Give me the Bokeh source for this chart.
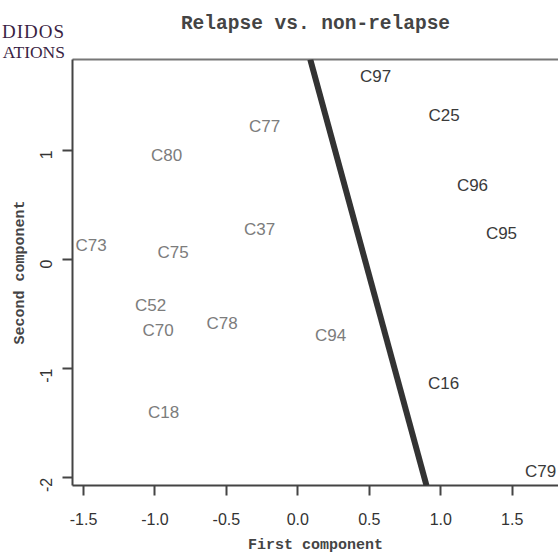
from bokeh.plotting import figure
from bokeh.models import (ColumnDataSource, Range1d, LinearAxis, FixedTicker,
                          Slope, PrintfTickFormatter, GridBox, Div)
from bokeh.core.properties import value
from bokeh.embed import file_html
from bokeh.resources import INLINE

# ---- data ----
names = ["C97", "C25", "C96", "C95", "C16", "C79",
         "C77", "C80", "C37", "C73", "C75", "C52", "C70", "C78", "C94", "C18"]
first = [0.544, 1.023, 1.222, 1.425, 1.020, 1.699,
         -0.233, -0.919, -0.268, -1.447, -0.873, -1.031, -0.978, -0.530, 0.229, -0.940]
second = [1.677, 1.324, 0.674, 0.238, -1.132, -1.943,
          1.219, 0.949, 0.275, 0.133, 0.060, -0.426, -0.651, -0.582, -0.697, -1.402]
group = ["non-relapse"] * 6 + ["relapse"] * 10
group_colors = {"non-relapse": "#3a3a3a", "relapse": "#7c7c7c"}

# separating line: second = gradient * first + intercept
line_gradient = -4.8
line_intercept = 2.25

x_ticks = [-1.5, -1.0, -0.5, 0.0, 0.5, 1.0, 1.5]
y_ticks = [-2, -1, 0, 1]
x_lim = (-1.577, 1.824)
y_lim = (-2.071, 1.833)

title_text = "Relapse vs. non-relapse"
x_title = "First component"
y_title = "Second component"
logo_lines = ["DIDOS", "ATIONS"]

colors = [group_colors[g] for g in group]
src = ColumnDataSource(dict(x=first, y=second, name=names, color=colors))

p = figure(output_backend="svg", toolbar_location=None,
           frame_width=486, frame_height=426,
           min_border_left=72, min_border_right=0,
           min_border_top=59, min_border_bottom=68,
           x_range=Range1d(*x_lim), y_range=Range1d(*y_lim))
p.background_fill_color = "white"
p.border_fill_color = "white"
p.outline_line_color = None
p.grid.visible = False

p.text(x="x", y="y", text="name", source=src, text_color="color",
       text_font=value("Liberation Sans"), text_font_size="17px",
       text_align="center", text_baseline="middle")

p.add_layout(Slope(gradient=line_gradient, y_intercept=line_intercept,
                   line_color="#333333", line_width=6))

for ax in (p.xaxis[0], p.yaxis[0]):
    ax.axis_line_color = "#444444"
    ax.axis_line_width = 2
    ax.major_tick_line_color = "#444444"
    ax.major_tick_line_width = 2
    ax.major_tick_in = 0
    ax.major_tick_out = 10
    ax.minor_tick_line_color = None
    ax.major_label_text_font = "Liberation Sans"
    ax.major_label_text_font_size = "16px"
    ax.major_label_text_color = "#333333"
    ax.axis_label_text_font = "Liberation Mono"
    ax.axis_label_text_font_style = "bold"
    ax.axis_label_text_font_size = "15px"
    ax.axis_label_text_color = "#444444"

p.xaxis[0].ticker = FixedTicker(ticks=x_ticks)
p.xaxis[0].formatter = PrintfTickFormatter(format="%.1f")
p.xaxis[0].axis_label = x_title
p.xaxis[0].major_label_standoff = 17
p.xaxis[0].axis_label_standoff = 9

p.yaxis[0].ticker = FixedTicker(ticks=y_ticks)
p.yaxis[0].formatter = PrintfTickFormatter(format="%d")
p.yaxis[0].axis_label = y_title
p.yaxis[0].major_label_orientation = 3.14159265 / 2
p.yaxis[0].major_label_standoff = 16
p.yaxis[0].axis_label_standoff = 3

# top frame edge, carrying the chart title as its label
top = LinearAxis(ticker=FixedTicker(ticks=[]), axis_line_color="#777777",
                 axis_line_width=2, major_tick_line_color=None,
                 major_tick_in=0, major_tick_out=0, major_label_standoff=0,
                 minor_tick_line_color=None, major_label_text_font_size="0px",
                 axis_label=title_text, axis_label_standoff=25,
                 axis_label_text_font="Liberation Mono",
                 axis_label_text_font_size="19.5px",
                 axis_label_text_font_style="bold",
                 axis_label_text_color="#444444")
p.add_layout(top, "above")

logo_sizes = ["19px", "17.5px"]
logo_spacing = ["1px", "0px"]
logo_html = ('<div style="padding-top:22px;width:65px;">'
             + "".join(
                 '<div style="direction:rtl;white-space:nowrap;'
                 "font-family:'Liberation Serif';font-size:%s;letter-spacing:%s;"
                 'line-height:20px;height:20px;color:#3b1f44;">%s</div>' % (fs, ls, t)
                 for t, fs, ls in zip(logo_lines, logo_sizes, logo_spacing))
             + "</div>")
logo = Div(text=logo_html, width=65, height=60, margin=0)

grid = GridBox(children=[(p, 0, 0), (logo, 0, 0)])

open("out.html", "w").write(file_html(grid, INLINE))
